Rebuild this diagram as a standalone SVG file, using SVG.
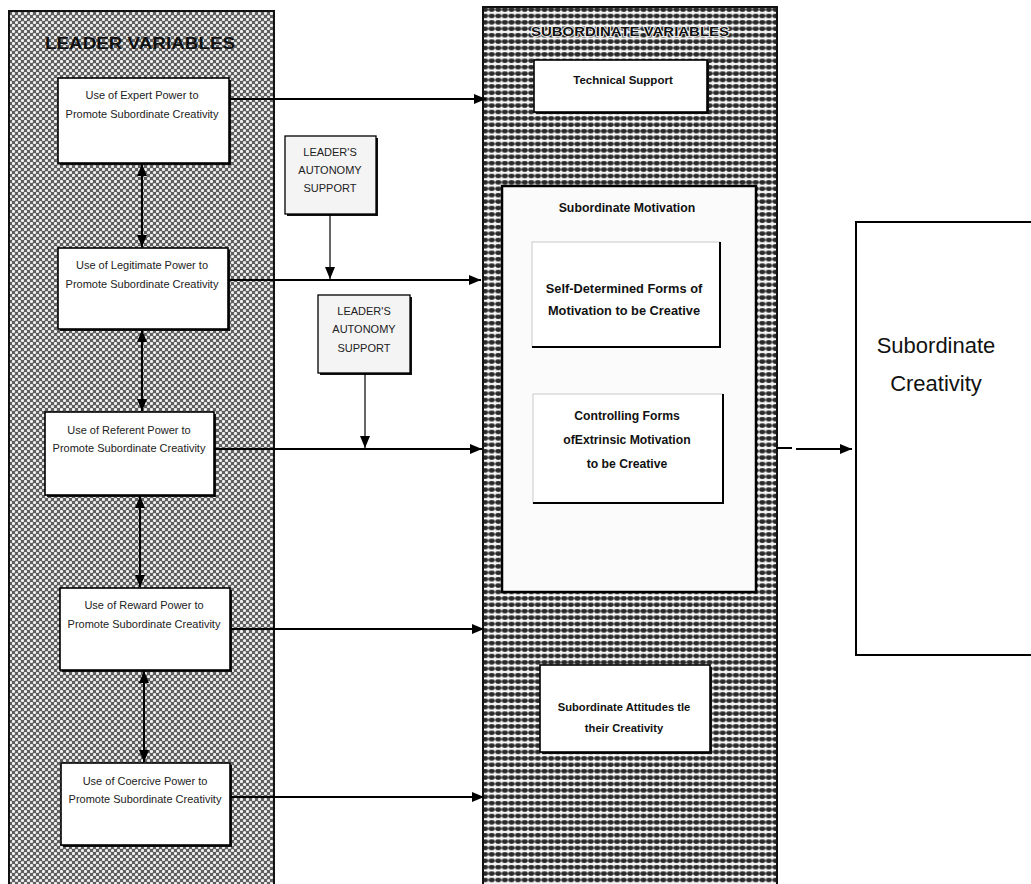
<svg xmlns="http://www.w3.org/2000/svg" width="1031" height="884" viewBox="0 0 1031 884">
  <style>
    .box { fill: #ffffff; stroke: #000; stroke-width: 1.6; }
    .shadow { fill: #111; }
    .lt { font-family: "Liberation Sans", Arial, sans-serif; font-size: 11px; fill: #222; text-anchor: middle; }
    .bt { font-family: "Liberation Sans", Arial, sans-serif; font-weight: bold; fill: #111; text-anchor: middle; }
    .edge { stroke: #000; stroke-width: 2; fill: none; }
    .thin { stroke: #000; stroke-width: 1.2; fill: none; }
  </style>
  <defs>
    <pattern id="checker" width="6" height="6" patternUnits="userSpaceOnUse">
      <rect width="6" height="6" fill="#5e5e5e"/>
      <circle cx="1.5" cy="1.5" r="1.6" fill="#efefef"/>
      <circle cx="4.5" cy="4.5" r="1.6" fill="#efefef"/>
    </pattern>
    <pattern id="dots" width="6.6" height="6.4" patternUnits="userSpaceOnUse">
      <rect width="6.6" height="6.4" fill="#f6f6f6"/>
      <ellipse cx="3.3" cy="3.2" rx="3.1" ry="2.2" fill="#2a2a2a"/>
    </pattern>
    <marker id="ah" viewBox="0 0 12 10" refX="12" refY="5" markerWidth="12" markerHeight="10" markerUnits="userSpaceOnUse" orient="auto">
      <path d="M0,0 L12,5 L0,10 Z" fill="#000"/>
    </marker>
    <marker id="ahs" viewBox="0 0 12 10" refX="12" refY="5" markerWidth="12" markerHeight="10" markerUnits="userSpaceOnUse" orient="auto-start-reverse">
      <path d="M0,0 L12,5 L0,10 Z" fill="#000"/>
    </marker>
  </defs>

  <rect width="1031" height="884" fill="#ffffff"/>

  <!-- leader panel -->
  <g id="leader-panel">
    <rect x="9" y="11" width="265" height="880" fill="url(#checker)" stroke="#111" stroke-width="2"/>
    <text class="bt" x="140" y="49" font-size="16.5" textLength="190" lengthAdjust="spacingAndGlyphs">LEADER VARIABLES</text>
  </g>

  <!-- subordinate panel -->
  <g id="subordinate-panel">
    <rect x="483" y="7" width="294" height="884" fill="url(#dots)" stroke="#111" stroke-width="2"/>
    <text class="bt" x="630" y="36" font-size="12.5" textLength="198" lengthAdjust="spacingAndGlyphs" stroke="#f6f6f6" stroke-width="1.6" paint-order="stroke">SUBORDINATE VARIABLES</text>
  </g>

  <!-- leader power boxes -->
  <g id="expert">
    <rect class="shadow" x="60" y="80" width="171" height="85"/>
    <rect class="box" x="58" y="78" width="171" height="85"/>
    <text class="lt" x="142" y="99">Use of Expert  Power to</text>
    <text class="lt" x="142" y="118">Promote Subordinate Creativity</text>
  </g>
  <g id="legitimate">
    <rect class="shadow" x="60" y="250" width="170" height="81"/>
    <rect class="box" x="58" y="248" width="170" height="81"/>
    <text class="lt" x="142" y="269">Use of Legitimate Power to</text>
    <text class="lt" x="142" y="288">Promote Subordinate Creativity</text>
  </g>
  <g id="referent">
    <rect class="shadow" x="47" y="414" width="169" height="83"/>
    <rect class="box" x="45" y="412" width="169" height="83"/>
    <text class="lt" x="129" y="434">Use of Referent  Power to</text>
    <text class="lt" x="129" y="452">Promote Subordinate Creativity</text>
  </g>
  <g id="reward">
    <rect class="shadow" x="62" y="590" width="170" height="82"/>
    <rect class="box" x="60" y="588" width="170" height="82"/>
    <text class="lt" x="144" y="609">Use of Reward Power to</text>
    <text class="lt" x="144" y="628">Promote Subordinate Creativity</text>
  </g>
  <g id="coercive">
    <rect class="shadow" x="63" y="765" width="169" height="82"/>
    <rect class="box" x="61" y="763" width="169" height="82"/>
    <text class="lt" x="145" y="785">Use of Coercive Power to</text>
    <text class="lt" x="145" y="803">Promote Subordinate Creativity</text>
  </g>

  <!-- autonomy support moderators -->
  <g id="autonomy-1">
    <rect class="shadow" x="287" y="138" width="91" height="78"/>
    <rect x="285" y="136" width="91" height="78" fill="#f4f4f4" stroke="#000" stroke-width="1.3"/>
    <text class="lt" x="330" y="156" font-size="8.8">LEADER'S</text>
    <text class="lt" x="330" y="174" font-size="8.8">AUTONOMY</text>
    <text class="lt" x="330" y="192" font-size="8.8">SUPPORT</text>
  </g>
  <g id="autonomy-2">
    <rect class="shadow" x="320" y="297" width="92" height="78"/>
    <rect x="318" y="295" width="92" height="78" fill="#f4f4f4" stroke="#000" stroke-width="1.3"/>
    <text class="lt" x="364" y="315" font-size="8.8">LEADER'S</text>
    <text class="lt" x="364" y="333" font-size="8.8">AUTONOMY</text>
    <text class="lt" x="364" y="352" font-size="8.8">SUPPORT</text>
  </g>

  <!-- subordinate variable boxes -->
  <g id="technical-support">
    <rect class="shadow" x="536" y="62" width="173" height="52"/>
    <rect class="box" x="534" y="60" width="173" height="52"/>
    <text class="bt" x="623" y="84" font-size="11.5">Technical Support</text>
  </g>
  <g id="subordinate-motivation">
    <rect x="502" y="186" width="254" height="406" fill="#fbfbfb" stroke="#000" stroke-width="2.5"/>
    <text class="bt" x="627" y="212" font-size="12.3">Subordinate Motivation</text>
  </g>
  <g id="self-determined">
    <rect x="532" y="242" width="188" height="105" fill="#ffffff" stroke="#bbb" stroke-width="0.8"/>
    <path d="M720,242 V347 H532" class="edge"/>
    <text class="bt" x="624" y="293" font-size="12.8">Self-Determined Forms of</text>
    <text class="bt" x="624" y="315" font-size="12.8">Motivation to be Creative</text>
  </g>
  <g id="controlling">
    <rect x="533" y="394" width="190" height="109" fill="#ffffff" stroke="#bbb" stroke-width="0.8"/>
    <path d="M723,394 V503 H533" class="edge"/>
    <text class="bt" x="627" y="420" font-size="12.2">Controlling Forms</text>
    <text class="bt" x="627" y="444" font-size="12.2">ofExtrinsic Motivation</text>
    <text class="bt" x="627" y="468" font-size="12.2">to be Creative</text>
  </g>
  <g id="attitudes">
    <rect class="shadow" x="542" y="667" width="170" height="87"/>
    <rect class="box" x="540" y="665" width="170" height="87"/>
    <text class="bt" x="624" y="711" font-size="11.2">Subordinate Attitudes tle</text>
    <text class="bt" x="624" y="732" font-size="11.2">their Creativity</text>
  </g>

  <!-- outcome -->
  <g id="subordinate-creativity">
    <rect x="856" y="222" width="190" height="433" fill="#ffffff" stroke="#000" stroke-width="2"/>
    <text x="936" y="353" font-family="Liberation Sans, Arial, sans-serif" font-size="22" fill="#111" text-anchor="middle">Subordinate</text>
    <text x="936" y="391" font-family="Liberation Sans, Arial, sans-serif" font-size="22" fill="#111" text-anchor="middle">Creativity</text>
  </g>

  <!-- connectors -->
  <g id="connectors">
    <!-- leader boxes to subordinate variables -->
    <line class="edge" x1="229" y1="99" x2="486" y2="99" marker-end="url(#ah)"/>
    <line class="edge" x1="228" y1="280" x2="481" y2="280" marker-end="url(#ah)"/>
    <line class="edge" x1="214" y1="449" x2="482" y2="449" marker-end="url(#ah)"/>
    <line class="edge" x1="230" y1="629" x2="484" y2="629" marker-end="url(#ah)"/>
    <line class="edge" x1="230" y1="797" x2="484" y2="797" marker-end="url(#ah)"/>

    <!-- links between leader boxes -->
    <line class="edge" x1="142" y1="164" x2="142" y2="247" marker-start="url(#ahs)" marker-end="url(#ah)"/>
    <line class="edge" x1="142" y1="330" x2="142" y2="411" marker-start="url(#ahs)" marker-end="url(#ah)"/>
    <line class="edge" x1="140" y1="496" x2="140" y2="587" marker-start="url(#ahs)" marker-end="url(#ah)"/>
    <line class="edge" x1="144" y1="671" x2="144" y2="762" marker-start="url(#ahs)" marker-end="url(#ah)"/>

    <!-- moderating paths -->
    <line class="thin" x1="330" y1="214" x2="330" y2="279" marker-end="url(#ah)"/>
    <line class="thin" x1="365" y1="373" x2="365" y2="448" marker-end="url(#ah)"/>

    <!-- subordinate variables to creativity -->
    <line class="edge" x1="777" y1="448" x2="792" y2="448"/>
    <line class="edge" x1="796" y1="449" x2="852" y2="449" marker-end="url(#ah)"/>
  </g>
</svg>
